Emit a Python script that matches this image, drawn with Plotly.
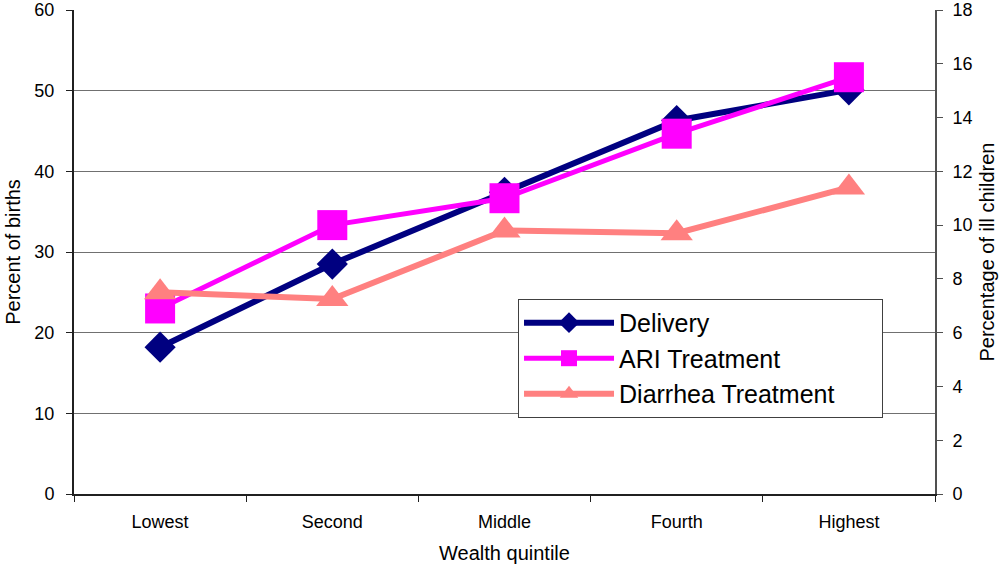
import plotly.graph_objects as go

categories = ["Lowest", "Second", "Middle", "Fourth", "Highest"]
delivery = [18.2, 28.5, 37.4, 46.3, 50.1]          # left axis, percent of births
ari_treatment = [6.9, 10.0, 11.0, 13.4, 15.5]      # right axis, percent of ill children
diarrhea_treatment = [7.5, 7.25, 9.8, 9.7, 11.4]   # right axis, percent of ill children
series_names = ["Delivery", "ARI Treatment", "Diarrhea Treatment"]

FONT = "Liberation Sans, Arial, sans-serif"
NB = "\u00a0"

fig = go.Figure()
fig.add_trace(go.Scatter(
    x=categories, y=delivery, name=series_names[0], mode="lines+markers",
    line=dict(color="#000080", width=6),
    marker=dict(symbol="diamond", size=24, color="#000080"),
    yaxis="y"))
fig.add_trace(go.Scatter(
    x=categories, y=ari_treatment, name=series_names[1], mode="lines+markers",
    line=dict(color="#FF00FF", width=5),
    marker=dict(symbol="square", size=30, color="#FF00FF"),
    yaxis="y2"))
fig.add_trace(go.Scatter(
    x=categories, y=diarrhea_treatment, name=series_names[2] + NB * 6, mode="lines+markers",
    line=dict(color="#FF8080", width=6),
    marker=dict(symbol="triangle-up", size=28, color="#FF8080"),
    yaxis="y2"))

fig.update_layout(
    width=999, height=567,
    margin=dict(l=74, r=64, t=10, b=73, autoexpand=False),
    paper_bgcolor="white", plot_bgcolor="white",
    font=dict(family=FONT, color="black", size=18),
    xaxis=dict(
        type="category", range=[-0.5, 4.5], automargin=False,
        showline=True, linecolor="#202020", linewidth=2,
        ticks="outside", tickson="boundaries", ticklen=6, tickcolor="#202020",
        showgrid=False, tickfont=dict(size=18), ticklabelstandoff=10,
        title=dict(text="Wealth quintile", font=dict(size=20), standoff=15),
    ),
    yaxis=dict(
        range=[0, 60], tick0=0, dtick=10, automargin=False,
        showline=True, linecolor="#202020", linewidth=2,
        ticks="outside", ticklen=6, tickcolor="#202020",
        showgrid=True, gridcolor="#707070", gridwidth=1,
        zeroline=False, tickfont=dict(size=18), ticklabelstandoff=8,
        title=dict(text="Percent of births", font=dict(size=20), standoff=8),
    ),
    yaxis2=dict(
        range=[0, 18], tick0=0, dtick=2, overlaying="y", side="right", automargin=False,
        showline=True, linecolor="#505050", linewidth=2,
        ticks="outside", ticklen=6, tickcolor="#505050",
        showgrid=False, zeroline=False, tickfont=dict(size=18), ticklabelstandoff=6,
        title=dict(text="Percentage of ill children", font=dict(size=20), standoff=8),
    ),
    legend=dict(
        x=0.5157, y=0.403, xanchor="left", yanchor="top",
        bgcolor="white", bordercolor="#404040", borderwidth=1,
        font=dict(size=25, family=FONT), tracegroupgap=0,
        itemwidth=90,
    ),
    showlegend=True,
)

fig.write_html(
    "out.html",
    config={"displayModeBar": False},
    post_script="document.body.style.margin='0';document.body.style.overflow='hidden';",
)
